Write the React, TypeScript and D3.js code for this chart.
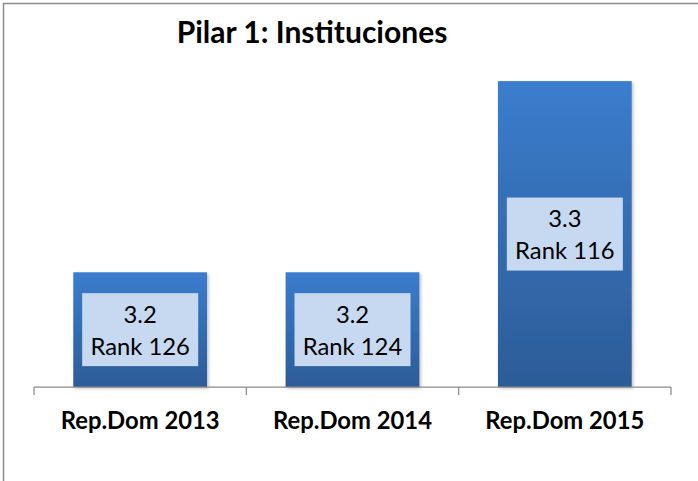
import React, { useRef, useEffect } from "react";
import * as d3 from "d3";

const width = 698;
const height = 481;

const categories = ["Rep.Dom 2013", "Rep.Dom 2014", "Rep.Dom 2015"];
const scores = [3.2, 3.2, 3.3];
const ranks = [126, 124, 116];
const title = "Pilar 1: Instituciones";

const FONT = "Lato, 'Noto Sans', sans-serif";

const App = () => {
  const svgRef = useRef<SVGSVGElement>(null);

  useEffect(() => {
    const svg = d3.select(svgRef.current);
    svg.selectAll("*").remove();

    const data = categories.map((c, i) => ({ cat: c, score: scores[i], rank: ranks[i] }));

    // scales (value axis is hidden, min is not zero)
    const x = d3.scaleBand<string>()
      .domain(categories)
      .range([34, 671])
      .paddingInner(0.37)
      .paddingOuter(0.185);

    const y = d3.scaleLinear().domain([3.14, 3.31]).range([387, 62]);

    const defs = svg.append("defs");
    const grad = defs.append("linearGradient")
      .attr("id", "barGrad")
      .attr("x1", "0%").attr("y1", "0%")
      .attr("x2", "0%").attr("y2", "100%");
    grad.append("stop").attr("offset", "0%").attr("stop-color", "#3b7dcd");
    grad.append("stop").attr("offset", "100%").attr("stop-color", "#2c5c97");

    const shadow = defs.append("filter")
      .attr("id", "barShadow")
      .attr("x", "-10%").attr("y", "-10%")
      .attr("width", "130%").attr("height", "130%");
    shadow.append("feDropShadow")
      .attr("dx", 1.5).attr("dy", 1.5)
      .attr("stdDeviation", 1.5)
      .attr("flood-color", "#000")
      .attr("flood-opacity", 0.25);

    // chart border
    svg.append("rect")
      .attr("x", 3.5).attr("y", 3.5)
      .attr("width", width + 20).attr("height", height + 20)
      .attr("fill", "#fff")
      .attr("stroke", "#8c8c8c")
      .attr("stroke-width", 1.5);

    // title
    svg.append("text")
      .attr("x", 312)
      .attr("y", 43)
      .attr("text-anchor", "middle")
      .style("font-family", FONT)
      .style("font-size", "30px")
      .style("font-weight", "bold")
      .style("fill", "#000")
      .text(title);

    // bars
    svg.append("g")
      .selectAll("rect")
      .data(data)
      .enter()
      .append("rect")
      .attr("x", d => x(d.cat)!)
      .attr("y", d => y(d.score))
      .attr("width", x.bandwidth())
      .attr("height", d => y.range()[0] - y(d.score))
      .attr("fill", "url(#barGrad)")
      .attr("filter", "url(#barShadow)");

    // axis line + tick marks at category boundaries
    const axisY = y.range()[0];
    const [x0, x1] = x.range();
    const axis = svg.append("g").attr("stroke", "#8a8a8a").attr("stroke-width", 1.25);
    axis.append("line")
      .attr("x1", x0).attr("x2", x1)
      .attr("y1", axisY).attr("y2", axisY);
    const bounds = categories.map(c => x(c)! - (x.step() - x.bandwidth()) / 2).concat([x1]);
    axis.selectAll("line.tick")
      .data(bounds)
      .enter()
      .append("line")
      .attr("class", "tick")
      .attr("x1", d => d).attr("x2", d => d)
      .attr("y1", axisY).attr("y2", axisY + 8);

    // category labels
    svg.append("g")
      .selectAll("text")
      .data(data)
      .enter()
      .append("text")
      .attr("x", d => x(d.cat)! + x.bandwidth() / 2)
      .attr("y", 429)
      .attr("text-anchor", "middle")
      .style("font-family", FONT)
      .style("font-size", "23.8px")
      .style("font-weight", "bold")
      .style("fill", "#000")
      .text(d => d.cat);

    // data label boxes
    const boxW = 116;
    const boxH = 73;
    const labels = svg.append("g")
      .selectAll("g")
      .data(data)
      .enter()
      .append("g")
      .attr("transform", d => {
        const cx = x(d.cat)! + x.bandwidth() / 2;
        const cy = (y(d.score) + axisY) / 2;
        return `translate(${cx},${cy})`;
      });

    labels.append("rect")
      .attr("x", -boxW / 2)
      .attr("y", -boxH / 2)
      .attr("width", boxW)
      .attr("height", boxH)
      .attr("fill", "#c6d9f1");

    labels.append("text")
      .attr("y", -7)
      .attr("text-anchor", "middle")
      .style("font-family", FONT)
      .style("font-size", "23.8px")
      .style("fill", "#000")
      .text(d => d3.format(".1f")(d.score));

    labels.append("text")
      .attr("y", 25)
      .attr("text-anchor", "middle")
      .style("font-family", FONT)
      .style("font-size", "23.8px")
      .style("fill", "#000")
      .text(d => `Rank ${d.rank}`);
  }, []);

  return (
    <svg
      ref={svgRef}
      width={width}
      height={height}
      style={{ position: "absolute", left: 0, top: 0, background: "#fff" }}
    />
  );
};

export default App;
